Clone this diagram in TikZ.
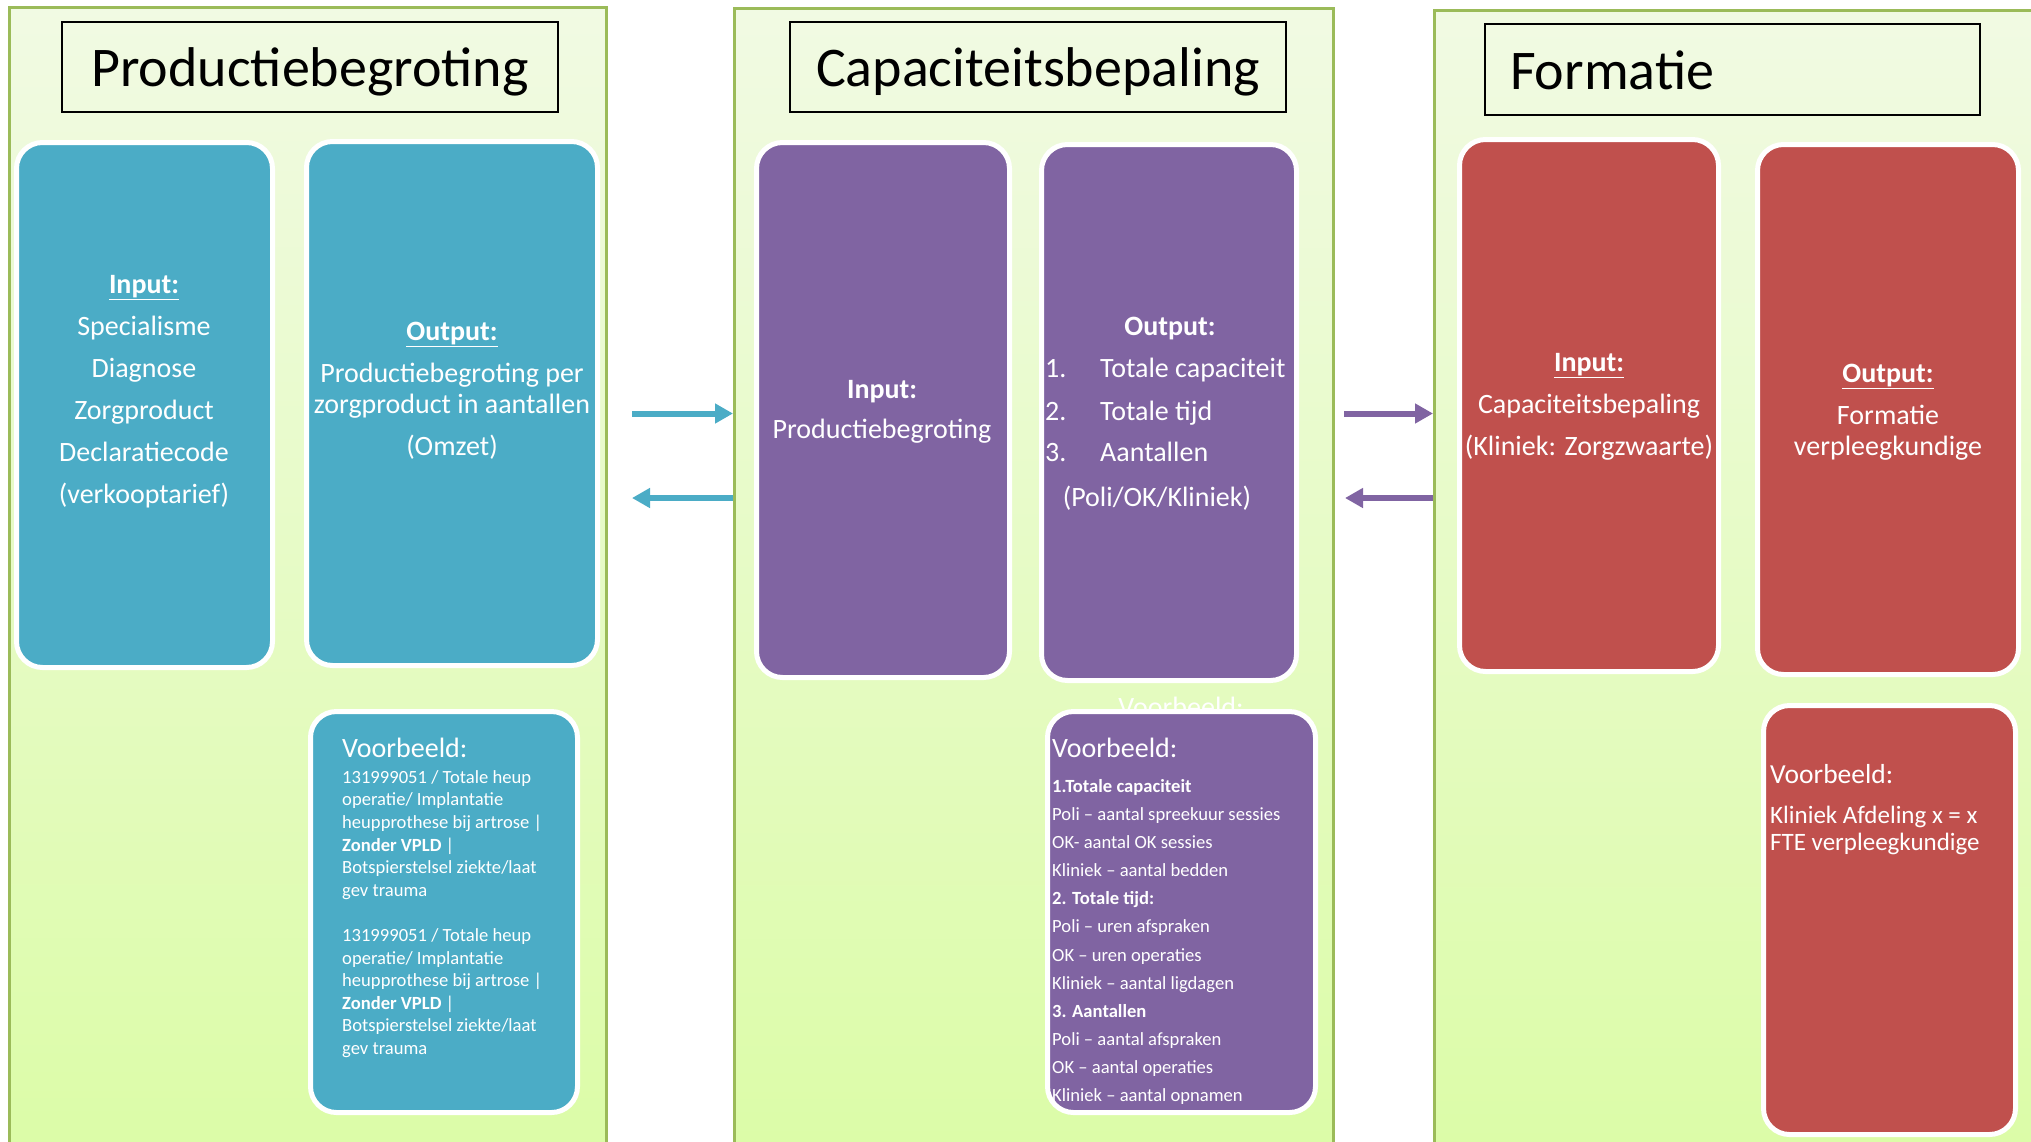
\documentclass[tikz,border=0pt]{standalone}
\usepackage{fontspec}
\setmainfont{Carlito}
\usetikzlibrary{arrows.meta}
\definecolor{pgreen}{HTML}{9BBB59}
\definecolor{ptop}{HTML}{F1FAE3}
\definecolor{pbot}{HTML}{DBFCA6}
\definecolor{cblue}{HTML}{4BACC6}
\definecolor{cpurple}{HTML}{8064A2}
\definecolor{cred}{HTML}{C0504D}
\tikzset{
  panel/.style={draw=pgreen, line width=2.5pt, top color=ptop, bottom color=pbot, anchor=north west, inner sep=0pt},
  titlebox/.style={draw=black, line width=2pt, anchor=north west, inner sep=0pt, font=\fontsize{56}{60}\selectfont, text height=45pt, text depth=6pt},
  rbox/.style={draw=white, line width=5pt, rounded corners=26pt, anchor=north west, inner sep=0pt},
  wtxt/.style={text=white, inner sep=0pt, align=center, font=\fontsize{28}{42}\selectfont},
  ltxt/.style={text=white, inner sep=0pt, align=left, anchor=west},
  lst/.style={text=white, inner sep=0pt, anchor=west, font=\fontsize{28}{42}\selectfont, text height=19pt, text depth=6pt},
  arrB/.style={draw=cblue, line width=6pt, -{Triangle[length=18pt,width=19pt]}},
  arrP/.style={draw=cpurple, line width=6pt, -{Triangle[length=18pt,width=19pt]}}
}
\begin{document}
\begin{tikzpicture}[x=1pt,y=-1pt]
\clip (0,0) rectangle (2031,1141);
\fill[white] (0,0) rectangle (2031,1141);
% panels
\node[panel, minimum width=597pt, minimum height=1170pt] (p1) at (8,6) {};
\node[panel, minimum width=599pt, minimum height=1170pt] (p2) at (733,7) {};
\node[panel, minimum width=620pt, minimum height=1170pt] (p3) at (1433,9) {};
% titles
\node[titlebox, minimum width=496pt, minimum height=90pt] (t1) at (61,21) {Productiebegroting};
\node[titlebox, minimum width=496pt, minimum height=90pt] (t2) at (789,21) {Capaciteitsbepaling};
\node[titlebox, minimum width=495pt, minimum height=91pt, text width=445pt, inner xsep=25pt, align=left] (t3) at (1484,23) {Formatie};
% ghost text behind example box
\node[wtxt] (ghost) at (1181,707) {Voorbeeld:};
% boxes
\node[rbox, fill=cblue, minimum width=256pt, minimum height=525pt] (b1i) at (14,140) {};
\node[rbox, fill=cblue, minimum width=291pt, minimum height=524pt] (b1o) at (304,139) {};
\node[rbox, fill=cblue, minimum width=267pt, minimum height=401pt] (b1v) at (308,709) {};
\node[rbox, fill=cpurple, minimum width=253pt, minimum height=535pt] (b2i) at (754,140) {};
\node[rbox, fill=cpurple, minimum width=255pt, minimum height=536pt] (b2o) at (1039,142) {};
\node[rbox, fill=cpurple, minimum width=268pt, minimum height=401pt] (b2v) at (1045,709) {};
\node[rbox, fill=cred, minimum width=259pt, minimum height=532pt] (b3i) at (1457,137) {};
\node[rbox, fill=cred, minimum width=261pt, minimum height=530pt] (b3o) at (1755,142) {};
\node[rbox, fill=cred, minimum width=252pt, minimum height=429pt] (b3v) at (1761,703) {};
% panel 1 texts
\node[wtxt] (x1i) at (144,392) {\underline{\textbf{Input:}}\\Specialisme\\Diagnose\\Zorgproduct\\Declaratiecode\\(verkooptarief)};
\node[wtxt, font=\fontsize{28}{31}\selectfont] (x1o) at (452,391) {\underline{\textbf{Output:}}\\[11pt]Productiebegroting per\\zorgproduct in aantallen\\[11pt](Omzet)};
\node[ltxt, font=\fontsize{28}{32}\selectfont] (x1vt) at (342,748) {Voorbeeld:};
\node[ltxt, font=\fontsize{18.6}{22.6}\selectfont] (x1vb) at (342,914) {131999051 / Totale heup\\operatie/ Implantatie\\heupprothese bij artrose |\\\textbf{Zonder VPLD} |\\Botspierstelsel ziekte/laat\\gev trauma\\[22.6pt]131999051 / Totale heup\\operatie/ Implantatie\\heupprothese bij artrose |\\\textbf{Zonder VPLD} |\\Botspierstelsel ziekte/laat\\gev trauma};
% panel 2 texts
\node[wtxt, font=\fontsize{28}{40}\selectfont] (x2i) at (882,412) {\textbf{Input:}\\Productiebegroting};
\node[wtxt] (x2oh) at (1170,329) {\textbf{Output:}};
\node[lst] (n1) at (1045,371) {1.};
\node[lst] (l1) at (1100,371) {Totale capaciteit};
\node[lst] (n2) at (1045,413.5) {2.};
\node[lst] (l2) at (1100,413.5) {Totale tijd};
\node[lst] (n3) at (1045,455) {3.};
\node[lst] (l3) at (1100,455) {Aantallen};
\node[wtxt] (l4) at (1157,498) {(Poli/OK/Kliniek)};
\node[ltxt, font=\fontsize{28}{32}\selectfont] (x2vt) at (1052,748) {Voorbeeld:};
\node[ltxt, font=\fontsize{18.6}{28.1}\selectfont] (x2vb) at (1052,942) {\textbf{1.Totale capaciteit}\\Poli – aantal spreekuur sessies\\OK- aantal OK sessies\\Kliniek – aantal bedden\\\textbf{2. Totale tijd:}\\Poli – uren afspraken\\OK – uren operaties\\Kliniek – aantal ligdagen\\\textbf{3. Aantallen}\\Poli – aantal afspraken\\OK – aantal operaties\\Kliniek – aantal opnamen};
% panel 3 texts
\node[wtxt] (x3i) at (1589,407) {\underline{\textbf{Input:}}\\Capaciteitsbepaling\\(Kliniek: Zorgzwaarte)};
\node[wtxt, font=\fontsize{28}{31}\selectfont] (x3o) at (1888,412.5) {\underline{\textbf{Output:}}\\[11pt]Formatie\\verpleegkundige};
\node[ltxt, font=\fontsize{27.5}{32}\selectfont] (x3vt) at (1770,774) {Voorbeeld:};
\node[ltxt, font=\fontsize{25}{26.5}\selectfont] (x3vb) at (1770,830.5) {Kliniek Afdeling x = x\\FTE verpleegkundige};
% arrows
\coordinate (a1) at (632,413.5);
\coordinate (a2) at (632,498);
\coordinate (a3) at (1344,413.5);
\coordinate (a4) at (1345,498);
\draw[arrB] (a1) -- (a1 -| p2.west);
\draw[arrB] (a2 -| p2.west) -- (a2);
\draw[arrP] (a3) -- (a3 -| p3.west);
\draw[arrP] (a4 -| p3.west) -- (a4);
\end{tikzpicture}
\end{document}
